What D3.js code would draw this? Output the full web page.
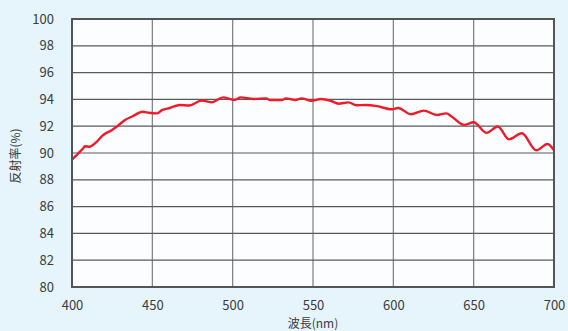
<!DOCTYPE html>
<html>
<head>
<meta charset="utf-8">
<script src="https://cdn.jsdelivr.net/npm/d3@7"></script>
<style>
  html, body { margin: 0; padding: 0; background: #e5f5fb; }
  svg { display: block; }
  .tick text { font-family: "Noto Sans CJK JP", "Noto Sans", sans-serif; font-size: 13px; fill: #3c3c3c; }
  .title { font-family: "Noto Sans CJK JP", sans-serif; font-size: 12px; fill: #3c3c3c; }
</style>
</head>
<body>
<div id="chart"></div>
<script>
// wavelength (nm) and reflectance (%)
const wavelengths = [
  400, 405, 407, 408, 411, 413, 415.5, 419, 424.7, 427.8, 433, 438, 444, 448, 453, 456,
  461, 467, 473, 480.7, 487, 494, 501, 505, 513, 521, 523, 531, 533, 539, 543, 549,
  555, 561, 566, 572, 577, 583, 589, 599, 603, 611, 619, 627, 633, 636, 644, 650,
  658, 665, 672, 680, 689, 696, 700,
];
const reflectance = [
  89.5, 90.1, 90.35, 90.5, 90.47, 90.6, 90.85, 91.3, 91.7, 91.96, 92.46, 92.76, 93.08, 93.0, 92.96, 93.2,
  93.36, 93.58, 93.55, 93.92, 93.78, 94.15, 93.96, 94.15, 94.03, 94.08, 93.96, 93.96, 94.08, 93.96, 94.08, 93.9,
  94.03, 93.9, 93.68, 93.78, 93.56, 93.58, 93.52, 93.26, 93.36, 92.89, 93.16, 92.84, 92.96, 92.75, 92.1, 92.3,
  91.5, 91.98, 91.02, 91.47, 90.2, 90.67, 90.2,
];
const xTicks = [400, 450, 500, 550, 600, 650, 700];
const yTicks = [80, 82, 84, 86, 88, 90, 92, 94, 96, 98, 100];

const data = wavelengths.map((w, i) => ({ w, r: reflectance[i] }));

const W = 568, H = 331;
const margin = { top: 19, left: 72, right: 14, bottom: 44 },
  width = W - margin.left - margin.right,
  height = H - margin.top - margin.bottom;

const svg = d3.select("#chart").append("svg").attr("width", W).attr("height", H);
const g = svg.append("g").attr("transform", `translate(${margin.left}, ${margin.top})`);

const x = d3.scaleLinear().domain([400, 700]).range([0, width]);
const y = d3.scaleLinear().domain([80, 100]).range([height, 0]);

// plot background
g.append("rect").attr("width", width).attr("height", height).attr("fill", "#fbfdff");

// grid
g.append("g")
  .selectAll("line")
  .data(xTicks)
  .join("line")
  .attr("x1", x).attr("x2", x)
  .attr("y1", 0).attr("y2", height)
  .attr("stroke", "#7d7d7d").attr("stroke-width", 1.2);
g.append("g")
  .selectAll("line")
  .data(yTicks)
  .join("line")
  .attr("y1", y).attr("y2", y)
  .attr("x1", 0).attr("x2", width)
  .attr("stroke", "#5a5a5a").attr("stroke-width", 1.2);

// axes (labels only)
const xAxis = g.append("g")
  .attr("transform", `translate(0, ${height})`)
  .call(d3.axisBottom(x).tickValues(xTicks).tickSize(0).tickPadding(14));
const yAxis = g.append("g")
  .call(d3.axisLeft(y).tickValues(yTicks).tickSize(0).tickPadding(18));
xAxis.select(".domain").remove();
yAxis.select(".domain").remove();

// curve
g.append("path")
  .datum(data)
  .attr("fill", "none")
  .attr("stroke", "#ee1c2a")
  .attr("stroke-width", 2.4)
  .attr("stroke-linejoin", "round")
  .attr("d", d3.line().x((d) => x(d.w)).y((d) => y(d.r)).curve(d3.curveMonotoneX));

// frame
g.append("rect")
  .attr("width", width).attr("height", height)
  .attr("fill", "none").attr("stroke", "#555").attr("stroke-width", 2);

// titles
svg.append("text")
  .attr("class", "title")
  .attr("x", margin.left + width / 2)
  .attr("y", H - 3)
  .attr("text-anchor", "middle")
  .text("波長(nm)");
svg.append("text")
  .attr("class", "title")
  .attr("transform", `translate(20, ${margin.top + 137}) rotate(-90)`)
  .attr("text-anchor", "middle")
  .text("反射率(%)");
</script>
</body>
</html>
